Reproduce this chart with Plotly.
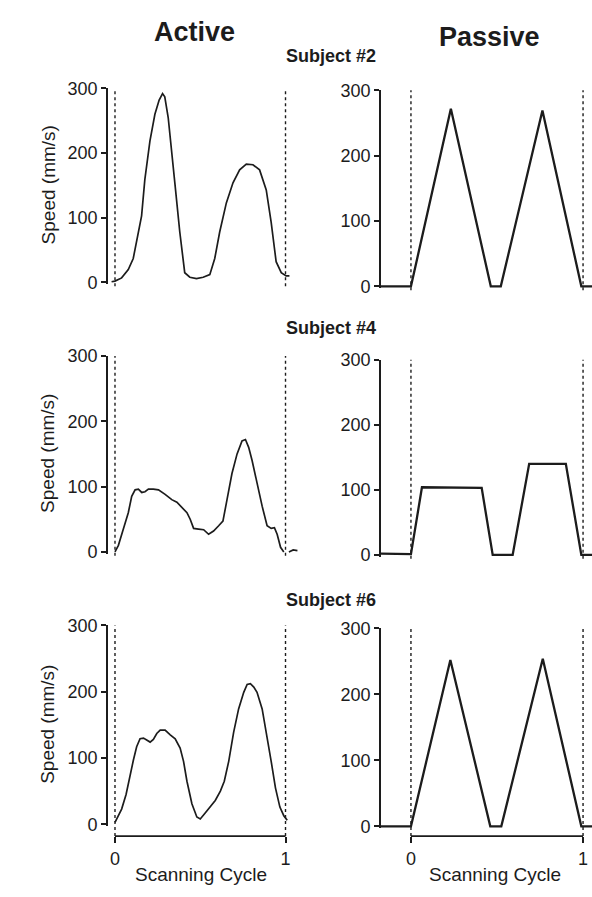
import plotly.graph_objects as go

W, H = 592, 897

# ---------------- data (scanning cycle, speed mm/s) ----------------
s2_active_x = [-0.02, 0.0, 0.039, 0.078, 0.107, 0.136, 0.156, 0.175, 0.205, 0.234, 0.259, 0.279,
               0.292, 0.312, 0.331, 0.351, 0.380, 0.409, 0.439, 0.478, 0.517, 0.556, 0.585, 0.614,
               0.653, 0.692, 0.731, 0.770, 0.809, 0.848, 0.887, 0.916, 0.945, 0.975, 1.004, 1.023]
s2_active_y = [1, 2, 7, 20, 37, 73, 103, 159, 219, 260, 282, 292,
               287, 255, 209, 154, 78, 15, 8, 6, 8, 12, 37, 78,
               123, 154, 174, 183, 182, 174, 143, 93, 32, 15, 10, 10]

s2_passive_x = [-0.174, 0.0, 0.232, 0.464, 0.522, 0.764, 0.99, 1.052]
s2_passive_y = [0, 0, 272, 0, 0, 269, 0, 0]

s4_active_x = [0.0, 0.02, 0.049, 0.078, 0.098, 0.118, 0.137, 0.157, 0.176, 0.196, 0.225, 0.255,
               0.294, 0.333, 0.363, 0.392, 0.422, 0.441, 0.461, 0.490, 0.520, 0.549, 0.578, 0.608,
               0.633, 0.657, 0.686, 0.716, 0.745, 0.765, 0.784, 0.804, 0.833, 0.863, 0.892, 0.916,
               0.935, 0.951, 0.971, 0.990, None, 1.02, 1.045, 1.07]
s4_active_y = [0, 10, 35, 60, 85, 95, 96, 91, 92, 96, 96, 95,
               88, 80, 76, 68, 60, 50, 36, 35, 34, 27, 32, 40,
               47, 80, 120, 150, 170, 172, 160, 140, 105, 70, 40, 36,
               37, 27, 7, 0, None, 0, 3, 2]

s4_passive_x = [-0.174, 0.0, 0.064, 0.411, 0.475, 0.591, 0.687, 0.900, 0.990, 1.052]
s4_passive_y = [2, 1, 104, 103, 0, 0, 140, 140, 0, 0]

s6_active_x = [0.0, 0.02, 0.039, 0.065, 0.088, 0.108, 0.127, 0.147, 0.167, 0.186, 0.206, 0.225,
               0.245, 0.265, 0.294, 0.324, 0.353, 0.382, 0.402, 0.422, 0.451, 0.480, 0.50, 0.529,
               0.559, 0.588, 0.618, 0.641, 0.667, 0.696, 0.725, 0.755, 0.775, 0.794, 0.814, 0.833,
               0.863, 0.892, 0.916, 0.941, 0.967, 0.990, 1.01]
s6_active_y = [3, 13, 23, 45, 75, 97, 117, 129, 130, 127, 124, 128,
               137, 142, 142, 135, 129, 115, 95, 65, 31, 11, 8, 17,
               26, 36, 50, 65, 95, 139, 174, 199, 211, 212, 207, 199,
               174, 134, 95, 55, 26, 13, 6]

s6_passive_x = [-0.174, 0.0, 0.229, 0.461, 0.525, 0.766, 0.99, 1.052]
s6_passive_y = [0, 0, 252, 0, 0, 254, 0, 0]

y_ticks = [0, 100, 200, 300]
x_ticks = [0, 1]
x_tick_labels = ["0", "1"]
subjects = ["Subject #2", "Subject #4", "Subject #6"]
columns = ["Active", "Passive"]

# ---------------- layout helpers ----------------
FONT = "Liberation Sans, Arial, Helvetica, sans-serif"
INK = "#1c1c1c"
Y_RANGE = [-3, 300]


def py(p):
    return 1 - p / H


# pixel positions of the 300 and 0 ticks for each panel (TL, TR, ML, MR, BL, BR)
panel_px = [(80, 278), (82, 282), (353, 553), (357, 556), (628, 831), (631, 833)]
left_dom = [108 / W, 300 / W]
right_dom = [381 / W, 1.0]
left_range = [-0.041, 1.085]
right_range = [-0.174, 1.052]
xaxis_px = 843
xaxis_pos = py(xaxis_px)

series = [
    (s2_active_x, s2_active_y, 1.7),
    (s2_passive_x, s2_passive_y, 2.3),
    (s4_active_x, s4_active_y, 1.7),
    (s4_passive_x, s4_passive_y, 2.3),
    (s6_active_x, s6_active_y, 1.7),
    (s6_passive_x, s6_passive_y, 2.3),
]

fig = go.Figure()
shapes = []
annotations = []
layout = {}

for i, (xs, ys, lw) in enumerate(series):
    n = i + 1
    sfx = "" if n == 1 else str(n)
    fig.add_trace(go.Scatter(x=xs, y=ys, mode="lines", xaxis="x" + sfx, yaxis="y" + sfx,
                             line=dict(color=INK, width=lw), showlegend=False,
                             connectgaps=False, hoverinfo="skip"))
    p300, p0 = panel_px[i]
    scale = (p0 - p300) / 300.0
    pbottom = p0 - Y_RANGE[0] * scale
    ydom = [py(pbottom), py(p300)]
    is_left = (i % 2 == 0)
    is_bottom = i >= 4
    xdom = left_dom if is_left else right_dom
    xr = left_range if is_left else right_range

    xa = dict(domain=xdom, range=xr, showgrid=False, zeroline=False, showline=False,
              fixedrange=True)
    if is_bottom:
        xa.update(anchor="free", position=xaxis_pos, tickmode="array", tickvals=x_ticks,
                  ticktext=x_tick_labels, ticks="outside", ticklen=6, tickwidth=1.6,
                  tickcolor=INK, tickfont=dict(family=FONT, size=18, color=INK))
        shapes.append(dict(type="line", xref="x" + sfx, yref="paper", x0=x_ticks[0], x1=x_ticks[-1],
                           y0=xaxis_pos, y1=xaxis_pos, line=dict(color=INK, width=1.8)))
    else:
        xa.update(anchor="y" + sfx, visible=False)
    layout["xaxis" + sfx] = xa

    layout["yaxis" + sfx] = dict(domain=ydom, range=Y_RANGE, anchor="x" + sfx, showgrid=False,
                                 zeroline=False, showline=True, linecolor=INK, linewidth=1.9,
                                 tickmode="array", tickvals=y_ticks, ticks="outside", ticklen=5,
                                 tickwidth=1.6, tickcolor=INK,
                                 tickfont=dict(family=FONT, size=18, color=INK), fixedrange=True)

    # dotted cycle boundaries
    y_low = xaxis_pos if is_bottom else py(p0 + 4)
    for xv in x_ticks:
        shapes.append(dict(type="line", xref="x" + sfx, yref="paper", x0=xv, x1=xv,
                           y0=y_low, y1=ydom[1], line=dict(color=INK, width=1.4, dash="dot")))

    if is_left:
        annotations.append(dict(text="Speed (mm/s)", textangle=-90, xref="paper", yref="paper",
                                x=48 / W, y=py((p300 + p0) / 2), xanchor="center", yanchor="middle",
                                showarrow=False, font=dict(family=FONT, size=19, color=INK)))
    if is_bottom:
        cx = 201 if is_left else 495
        annotations.append(dict(text="Scanning Cycle", xref="paper", yref="paper",
                                x=cx / W, y=py(882), xanchor="center", yanchor="middle",
                                showarrow=False, font=dict(family=FONT, size=19, color=INK)))

# column titles
annotations.append(dict(text="<b>" + columns[0] + "</b>", xref="paper", yref="paper", x=194 / W, y=py(22),
                        xanchor="center", yanchor="middle", showarrow=False,
                        font=dict(family=FONT, size=27, color=INK)))
annotations.append(dict(text="<b>" + columns[1] + "</b>", xref="paper", yref="paper", x=489 / W, y=py(28),
                        xanchor="center", yanchor="middle", showarrow=False,
                        font=dict(family=FONT, size=27, color=INK)))
# subject labels
for lab, yp in zip(subjects, [47, 325, 602]):
    annotations.append(dict(text="<b>" + lab + "</b>", xref="paper", yref="paper", x=331 / W, y=py(yp),
                            xanchor="center", yanchor="middle", showarrow=False,
                            font=dict(family=FONT, size=18, color=INK)))

fig.update_layout(width=W, height=H, margin=dict(l=0, r=0, t=0, b=0, pad=0),
                  paper_bgcolor="white", plot_bgcolor="white", showlegend=False,
                  shapes=shapes, annotations=annotations, **layout)

fig.write_html("out.html", config={"displayModeBar": False})
